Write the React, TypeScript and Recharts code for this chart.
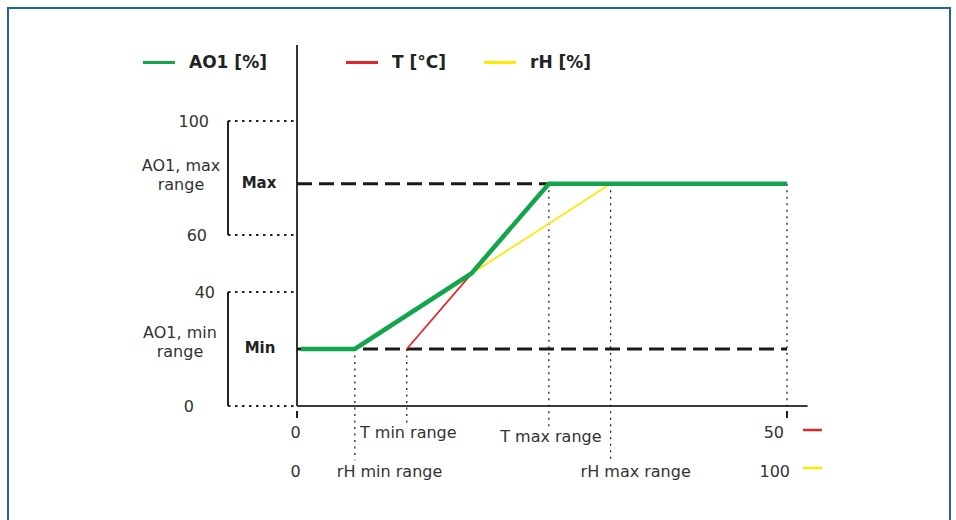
import React from "react";
import {
  LineChart,
  Line,
  XAxis,
  YAxis,
  ReferenceLine,
  ReferenceDot,
  Legend,
} from "recharts";

const FONT = '"DejaVu Sans", Verdana, sans-serif';
const TEXT = "#333";

// AO1 output levels (%)
const AO1_MIN = 20;
const AO1_MAX = 78;
const Y_TICKS = [0, 40, 60, 100];
const MAX_RANGE = [60, 100];
const MIN_RANGE = [0, 40];
const Y_TOP = 126.7; // axis line runs a bit past 100

// inputs: T in °C on a 0..50 scale, rH in % on 0..100
const T_TICKS = [0, 50];
const RH_TICKS = [0, 100];
const T_MIN = 11.2;
const T_MAX = 25.7;
const RH_MIN = 11.8;
const RH_MAX = 64;
const X_END = 52.1;
const BRACKET_X = -7.04;

const tData = [
  { x: T_MIN, y: AO1_MIN },
  { x: T_MAX, y: AO1_MAX },
];
const rhData = [
  { x: RH_MIN, y: AO1_MIN },
  { x: RH_MAX, y: AO1_MAX },
];
// resulting AO1 (T axis units)
const ao1Data = [
  { x: 0.4, y: 20 },
  { x: 5.9, y: 20 },
  { x: 17.8, y: 46.5 },
  { x: 25.7, y: 78 },
  { x: 50, y: 78 },
];

const LEGEND_ORDER = ["AO1 [%]", "T [°C]", "rH [%]"];
const LEGEND_SLOTS = [203, 138, 120];

const T_AXIS = "a";
const RH_AXIS = "b";

// vertical dotted guides
const guides = [
  { axis: T_AXIS, x: T_MIN, from: AO1_MIN, to: -6 },
  { axis: T_AXIS, x: T_MAX, from: AO1_MAX, to: -7.7 },
  { axis: RH_AXIS, x: RH_MIN, from: AO1_MIN, to: -19 },
  { axis: RH_AXIS, x: RH_MAX, from: AO1_MAX, to: -19.3 },
  { axis: T_AXIS, x: 50, from: AO1_MAX, to: 0 },
];

// text notes: anchored to a data point, nudged in px
const notes = [
  { axis: T_AXIS, x: T_MIN, y: 0, dx: 1.5, dy: 32, lines: ["T min range"], anchor: "middle", bold: false },
  { axis: T_AXIS, x: T_MAX, y: 0, dx: 2, dy: 36, lines: ["T max range"], anchor: "middle", bold: false },
  { axis: RH_AXIS, x: RH_MIN, y: 0, dx: -18, dy: 71, lines: ["rH min range"], anchor: "start", bold: false },
  { axis: RH_AXIS, x: RH_MAX, y: 0, dx: -30, dy: 71, lines: ["rH max range"], anchor: "start", bold: false },
  { axis: T_AXIS, x: 0, y: AO1_MAX, dx: -38, dy: 4, lines: ["Max"], anchor: "middle", bold: true },
  { axis: T_AXIS, x: 0, y: AO1_MIN, dx: -37, dy: 4, lines: ["Min"], anchor: "middle", bold: true },
  { axis: T_AXIS, x: 0, y: AO1_MAX, dx: -116, dy: -13, lines: ["AO1, max", "range"], anchor: "middle", bold: false },
  { axis: T_AXIS, x: 0, y: AO1_MIN, dx: -117, dy: -11, lines: ["AO1, min", "range"], anchor: "middle", bold: false },
];

const Y_TICK_DX: Record<number, number> = { 0: -103, 40: -82, 60: -90, 100: -88 };

function YTick(props: any) {
  const { x, y, payload } = props;
  return (
    <text
      x={x + (Y_TICK_DX[payload.value] ?? -88)}
      y={y + 6}
      textAnchor="end"
      fontFamily={FONT}
      fontSize={16}
      fill={TEXT}
    >
      {payload.value}
    </text>
  );
}

function TTick(props: any) {
  const { x, y, payload, index } = props;
  const last = index === T_TICKS.length - 1;
  return (
    <g>
      <line x1={x} x2={x} y1={y + 5} y2={y + 12} stroke="#222" strokeWidth={2} />
      <text
        x={last ? x - 3 : x - 1.5}
        y={y + 32}
        textAnchor={last ? "end" : "middle"}
        fontFamily={FONT}
        fontSize={16}
        fill={TEXT}
      >
        {payload.value}
      </text>
      {last && <line x1={x + 16} x2={x + 35} y1={y + 24} y2={y + 24} stroke="#e3262b" strokeWidth={2.5} />}
    </g>
  );
}

function RhTick(props: any) {
  const { x, y, payload, index } = props;
  const last = index === RH_TICKS.length - 1;
  return (
    <g>
      <text
        x={last ? x + 3 : x - 1.5}
        y={y + 35}
        textAnchor={last ? "end" : "middle"}
        fontFamily={FONT}
        fontSize={16}
        fill={TEXT}
      >
        {payload.value}
      </text>
      {last && <line x1={x + 16} x2={x + 35} y1={y + 26} y2={y + 26} stroke="#ffe800" strokeWidth={2.5} />}
    </g>
  );
}

function LegendContent(props: any) {
  const payload = props.payload || [];
  const items = LEGEND_ORDER.map((name) => payload.find((p: any) => p.value === name)).filter(Boolean);
  return (
    <div style={{ display: "flex", fontFamily: FONT, fontWeight: "bold", fontSize: 17, color: "#222", lineHeight: "20px" }}>
      {items.map((it: any, i: number) => (
        <div key={it.value} style={{ width: LEGEND_SLOTS[i], display: "flex", alignItems: "center" }}>
          <span style={{ width: 32, height: 3, background: it.color, marginRight: 14, display: "inline-block" }} />
          <span>{it.value}</span>
        </div>
      ))}
    </div>
  );
}

export default function App() {
  const dotted = { stroke: "#222", strokeWidth: 1.3, strokeDasharray: "2 4.5" };
  return (
    <div style={{ position: "absolute", left: 0, top: 0, width: 956, height: 520, overflow: "hidden", background: "#fff" }}>
      <div
        style={{
          position: "absolute",
          left: 7,
          top: 7,
          width: 940,
          height: 530,
          borderTop: "2px solid #2563a0",
          borderLeft: "2px solid #2563a0",
          borderRight: "2px solid #2563a0",
        }}
      />
      <div style={{ position: "absolute", left: 0, top: 0 }}>
        <LineChart width={956} height={520} margin={{ top: 121, right: 169, bottom: 42, left: 237 }}>
          <XAxis
            xAxisId={RH_AXIS}
            type="number"
            dataKey="x"
            domain={[0, 100]}
            ticks={RH_TICKS}
            interval={0}
            height={36}
            axisLine={false}
            tickLine={false}
            tickSize={0}
            tickMargin={0}
            tick={<RhTick />}
          />
          <XAxis
            xAxisId={T_AXIS}
            type="number"
            dataKey="x"
            domain={[0, 50]}
            ticks={T_TICKS}
            interval={0}
            height={36}
            axisLine={false}
            tickLine={false}
            tickSize={0}
            tickMargin={0}
            tick={<TTick />}
          />
          <YAxis
            type="number"
            domain={[0, 100]}
            ticks={Y_TICKS}
            interval={0}
            width={60}
            axisLine={false}
            tickLine={false}
            tickSize={0}
            tickMargin={0}
            tick={<YTick />}
          />
          <Legend
            layout="horizontal"
            verticalAlign="middle"
            align="center"
            content={<LegendContent />}
            wrapperStyle={{ top: 52, left: 143, width: "auto" }}
          />

          {/* axes */}
          <ReferenceLine xAxisId={T_AXIS} ifOverflow="visible" segment={[{ x: 0, y: 0 }, { x: 0, y: Y_TOP }]} stroke="#333" strokeWidth={2} />
          <ReferenceLine xAxisId={T_AXIS} ifOverflow="visible" segment={[{ x: 0, y: 0 }, { x: X_END, y: 0 }]} stroke="#3a3a3a" strokeWidth={2} />

          {/* tick leaders and range brackets on the left */}
          {Y_TICKS.map((v) => (
            <ReferenceLine
              key={"lead" + v}
              xAxisId={T_AXIS}
              ifOverflow="visible"
              segment={[{ x: BRACKET_X, y: v }, { x: 0, y: v }]}
              stroke="#222"
              strokeWidth={1.8}
              strokeDasharray="2.5 4.5"
            />
          ))}
          {[MAX_RANGE, MIN_RANGE].map((r) => (
            <ReferenceLine
              key={"br" + r[0]}
              xAxisId={T_AXIS}
              ifOverflow="visible"
              segment={[{ x: BRACKET_X, y: r[0] }, { x: BRACKET_X, y: r[1] }]}
              stroke="#222"
              strokeWidth={2}
            />
          ))}

          {/* min / max levels */}
          {[AO1_MIN, AO1_MAX].map((v) => (
            <ReferenceLine
              key={"lvl" + v}
              xAxisId={T_AXIS}
              ifOverflow="visible"
              segment={[{ x: 0, y: v }, { x: 50, y: v }]}
              stroke="#1a1a1a"
              strokeWidth={3}
              strokeDasharray="15 7"
            />
          ))}

          {guides.map((g, i) => (
            <ReferenceLine
              key={"g" + i}
              xAxisId={g.axis}
              ifOverflow="visible"
              segment={[{ x: g.x, y: g.from }, { x: g.x, y: g.to }]}
              {...dotted}
            />
          ))}

          {notes.map((n, i) => (
            <ReferenceDot
              key={"n" + i}
              xAxisId={n.axis}
              x={n.x}
              y={n.y}
              r={0}
              ifOverflow="visible"
              shape={(p: any) => (
                <text
                  x={p.cx + n.dx}
                  y={p.cy + n.dy}
                  textAnchor={n.anchor}
                  fontFamily={FONT}
                  fontSize={n.bold ? 15 : 16}
                  fontWeight={n.bold ? "bold" : "normal"}
                  fill={n.bold ? "#222" : TEXT}
                >
                  {n.lines.map((l, j) => (
                    <tspan key={j} x={p.cx + n.dx} dy={j === 0 ? 0 : 19}>
                      {l}
                    </tspan>
                  ))}
                </text>
              )}
            />
          ))}

          <Line
            xAxisId={T_AXIS}
            data={tData}
            dataKey="y"
            name="T [°C]"
            type="linear"
            stroke="#e3262b"
            strokeWidth={1.8}
            dot={false}
            activeDot={false}
            isAnimationActive={false}
          />
          <Line
            xAxisId={RH_AXIS}
            data={rhData}
            dataKey="y"
            name="rH [%]"
            type="linear"
            stroke="#ffe800"
            strokeWidth={1.8}
            dot={false}
            activeDot={false}
            isAnimationActive={false}
          />
          <Line
            xAxisId={T_AXIS}
            data={ao1Data}
            dataKey="y"
            name="AO1 [%]"
            type="linear"
            stroke="#13a54b"
            strokeWidth={4.5}
            dot={false}
            activeDot={false}
            isAnimationActive={false}
          />
        </LineChart>
      </div>
    </div>
  );
}
